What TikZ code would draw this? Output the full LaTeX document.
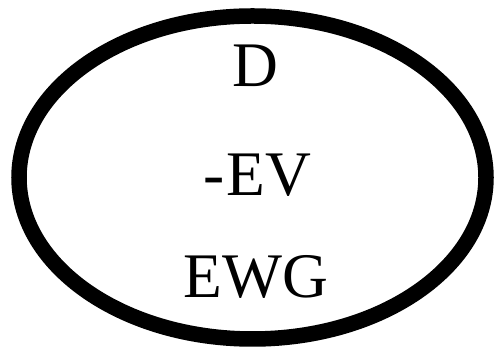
\documentclass[tikz,border=0pt]{standalone}
\usepackage{fontspec}
\setmainfont{Liberation Serif}
\begin{document}
\begin{tikzpicture}[x=1pt,y=1pt,
  ring/.style={draw=black,line width=15.5pt},
  lbl/.style={inner sep=0pt,anchor=base,font=\fontsize{63.5}{63.5}\selectfont}]
\useasboundingbox (0,0) rectangle (494,347);
\draw[ring] (252.5,169.5) ellipse [x radius=233.5, y radius=161.5];
\node[lbl] (d) at (255,260) {D};
\node[lbl] (ev) at (257,151) {-\kern2pt EV};
\node[lbl] (ewg) at (256,49) {EWG};
\end{tikzpicture}
\end{document}
